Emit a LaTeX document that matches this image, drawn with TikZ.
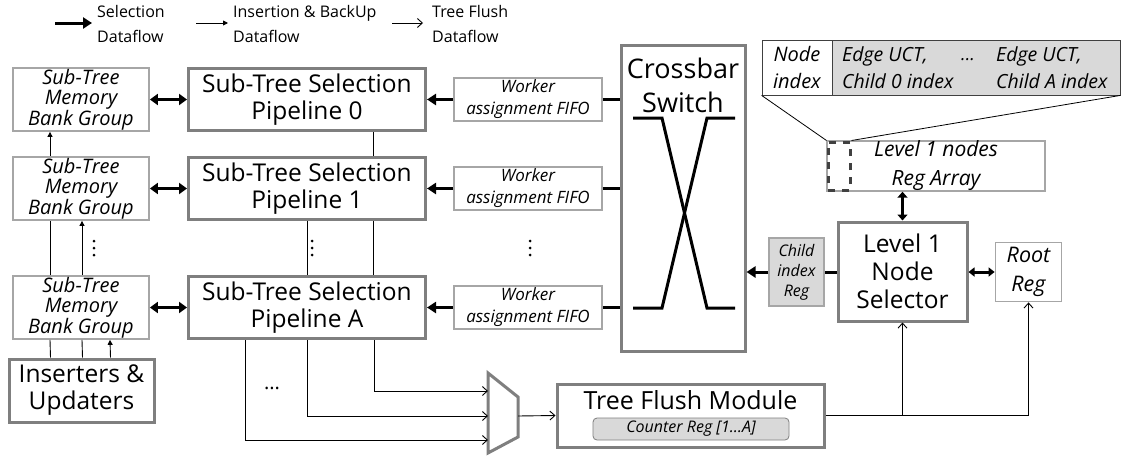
\documentclass[tikz,border=0pt]{standalone}
\usepackage{fontspec}
\setmainfont{Open Sans}
\usetikzlibrary{arrows.meta,calc,positioning}

\definecolor{boxgray}{HTML}{7F7F7F}
\definecolor{linegray}{HTML}{A6A6A6}
\definecolor{regfill}{HTML}{D9D9D9}
\definecolor{dashgray}{HTML}{404040}

\tikzset{
  bigbox/.style={draw=boxgray, line width=3pt, fill=white, align=center, inner sep=0pt,
    font=\fontsize{24.5}{27}\selectfont},
  membox/.style={draw=linegray, line width=1.8pt, fill=white, align=center, inner sep=0pt,
    font=\fontsize{20}{20.5}\selectfont\itshape},
  fifobox/.style={draw=linegray, line width=1.8pt, fill=white, align=center, inner sep=0pt,
    font=\fontsize{17}{22}\selectfont\itshape},
  regbox/.style={draw=boxgray, line width=0.8pt, fill=regfill, align=center, inner sep=0pt},
  legend/.style={anchor=west, align=left, inner sep=0pt, font=\fontsize{16}{25}\selectfont},
  selarrow/.style={line width=3pt, -{Triangle[length=9pt,width=11pt]}},
  seldouble/.style={line width=3pt, {Triangle[length=8pt,width=11pt]}-{Triangle[length=8pt,width=11pt]}},
  selline/.style={line width=3pt},
  insarrow/.style={line width=0.9pt, -{Triangle[length=5pt,width=5pt]}},
  insline/.style={line width=0.9pt},
  flusharrow/.style={line width=0.9pt, -{Straight Barb[length=5pt,width=9pt]}},
  flushline/.style={line width=0.9pt},
  xline/.style={line width=3pt}
}

\begin{document}
\begin{tikzpicture}[x=1pt,y=-1pt]
\useasboundingbox (0,0) rectangle (1124,455);

\node[legend] (legsel) at (97,24) {Selection\\Dataflow};
\node[legend] (legins) at (233,24) {Insertion \& BackUp\\Dataflow};
\node[legend] (legflush) at (432,24) {Tree Flush\\Dataflow};
\coordinate (legsel0) at (55,23);
\coordinate (legins0) at (196,23);
\coordinate (legflush0) at (392,23);
\draw[selarrow] (legsel0) -- ([xshift=-5pt]legsel.west |- legsel0);
\draw[insarrow] (legins0) -- ([xshift=-5pt]legins.west |- legins0);
\draw[flusharrow] (legflush0) -- ([xshift=-9pt]legflush.west |- legflush0);

\node[bigbox, minimum width=124, minimum height=306] (xbar) at (683,198) {};
\node[align=center, inner sep=0pt, font=\fontsize{27}{34}\selectfont] (xbartext) at (683,85) {Crossbar\\Switch};
\draw[xline] (633,118) -- (662,118) -- (707,308) -- (735,308);
\draw[xline] (633,308) -- (662,308) -- (707,118) -- (735,118);

\foreach \i/\y in {0/99.5,1/188.5,A/307.5}{
  \node[bigbox, minimum width=237, minimum height=62] (pipe\i) at (307,\y) {Sub-Tree Selection\\Pipeline \i};
  \node[membox, minimum width=136, minimum height=63] (bank\i) at (81,\y) {Sub-Tree\\Memory\\Bank Group};
  \node[fifobox, minimum width=148, minimum height=43] (fifo\i) at (528,\y) {Worker\\assignment FIFO};
  \draw[seldouble] (bank\i) -- (pipe\i);
  \draw[selarrow] (fifo\i) -- (pipe\i);
  \draw[selline] (fifo\i) -- (fifo\i -| xbar.west);
}

\node[bigbox, minimum width=145, minimum height=63] (ins) at (81.5,390.5) {Inserters \&\\Updaters};

\draw[insarrow] ([xshift=-31pt]bank1.north) -- ([xshift=-31pt]bank0.south);
\draw[insline] ([xshift=-31pt]bankA.north) -- ([xshift=-31pt]bank1.south);
\draw[insarrow] ([xshift=1pt]bankA.north) -- ([xshift=1pt]bank1.south);
\draw[insline] ([xshift=-31pt]ins.north) -- ([xshift=-31pt]bankA.south);
\draw[insline] ([xshift=1pt]ins.north) -- ([xshift=1pt]bankA.south);
\draw[insarrow] ([xshift=29pt]ins.north) -- ([xshift=29pt]bankA.south);

\draw[insline] ([xshift=66pt]pipe0.south) -- ([xshift=66pt]pipe1.north);
\draw[insline] ([xshift=66pt]pipe1.south) -- ([xshift=66pt]pipeA.north);
\draw[insline] (pipe1.south) -- (pipeA.north);

\foreach \x in {94,312,530}
  \foreach \y in {241,248,255}
    \fill (\x,\y) circle (1.5pt);

\coordinate (muxtl) at (488,373);
\coordinate (muxtr) at (518,397);
\coordinate (muxbr) at (518,437);
\coordinate (muxbl) at (488,453);
\draw[draw=boxgray, line width=3pt, fill=white] (muxtl) -- (muxtr) -- (muxbr) -- (muxbl) -- cycle;
\coordinate (muxin1) at (488,391);
\coordinate (muxin2) at (488,416);
\coordinate (muxin3) at (488,440);
\coordinate (muxout) at (518,416);
\draw[flusharrow] ([xshift=67pt]pipeA.south) |- (muxin1);
\draw[flusharrow] (pipeA.south) |- (muxin2);
\draw[flusharrow] ([xshift=-62pt]pipeA.south) |- (muxin3);
\node[font=\fontsize{20}{20}\selectfont] (flushdots) at (272,388) {...};

\node[bigbox, minimum width=267, minimum height=63] (flush) at (690.5,415.5) {};
\node[inner sep=0pt, font=\fontsize{25}{25}\selectfont] (flushtext) at (690.5,400) {Tree Flush Module};
\node[regbox, rounded corners=4pt, minimum width=196, minimum height=22, font=\fontsize{16}{16}\selectfont\itshape] (counter) at (691,429) {Counter Reg [1…A]};
\draw[flusharrow] (muxout) -- (flush.west);

\node[bigbox, minimum width=129, minimum height=99, font=\fontsize{24.5}{28}\selectfont] (sel) at (902.5,271.5) {Level 1\\Node\\Selector};
\node[regbox, draw=linegray, line width=1.2pt, minimum width=55, minimum height=68,
  font=\fontsize{16}{20}\selectfont\itshape] (child) at (796.5,272) {Child\\index\\Reg};
\node[membox, minimum width=66, minimum height=59, font=\fontsize{21.5}{29}\selectfont\itshape] (root) at (1028.5,272) {Root\\Reg};
\draw[selarrow] (child.west) -- (child.west -| xbar.east);
\draw[selline] (sel.west |- child.east) -- (child.east);
\draw[line width=3pt, {Triangle[length=6pt,width=9pt]}-{Triangle[length=6pt,width=9pt]}] (sel.east |- root.west) -- (root.west);

\node[membox, line width=1.4pt, minimum width=218, minimum height=50, font=\fontsize{21}{29}\selectfont\itshape] (regarr) at (936,166) {Level 1 nodes\\Reg Array};
\node[draw=dashgray, line width=3pt, dash pattern=on 7pt off 7pt, minimum width=22, minimum height=48, inner sep=0pt] (dash) at (839,166) {};
\draw[line width=3pt, {Triangle[length=6pt,width=10pt]}-{Triangle[length=6pt,width=10pt]}] (regarr.south -| sel.north) -- (sel.north);

\node[regbox, draw=dashgray, line width=0.8pt, minimum width=358, minimum height=55] (tab) at (941,67.5) {};
\node[draw=dashgray, line width=0.8pt, fill=white, minimum width=70, minimum height=55, inner sep=0pt,
  align=center, font=\fontsize{20}{27}\selectfont\itshape] (tabidx) at (797,67.5) {Node\\index};
\node[anchor=west, align=left, inner sep=0pt, font=\fontsize{19.5}{27}\selectfont\itshape] (tabc0) at (842,67.5) {Edge UCT,\\Child 0 index};
\node[inner sep=0pt, font=\fontsize{18}{18}\selectfont\itshape] (tabdots) at (968,60) {...};
\node[anchor=west, align=left, inner sep=0pt, font=\fontsize{19.5}{27}\selectfont\itshape] (tabcA) at (996,67.5) {Edge UCT,\\Child A index};
\draw[line width=0.8pt] (tab.south west) -- (dash.north west);
\draw[line width=0.8pt] (tab.south east) -- (dash.north east);

\draw[flusharrow] (flush.east -| sel.south) -- (sel.south);
\draw[flusharrow] (flush.east) -| (root.south);

\end{tikzpicture}
\end{document}
